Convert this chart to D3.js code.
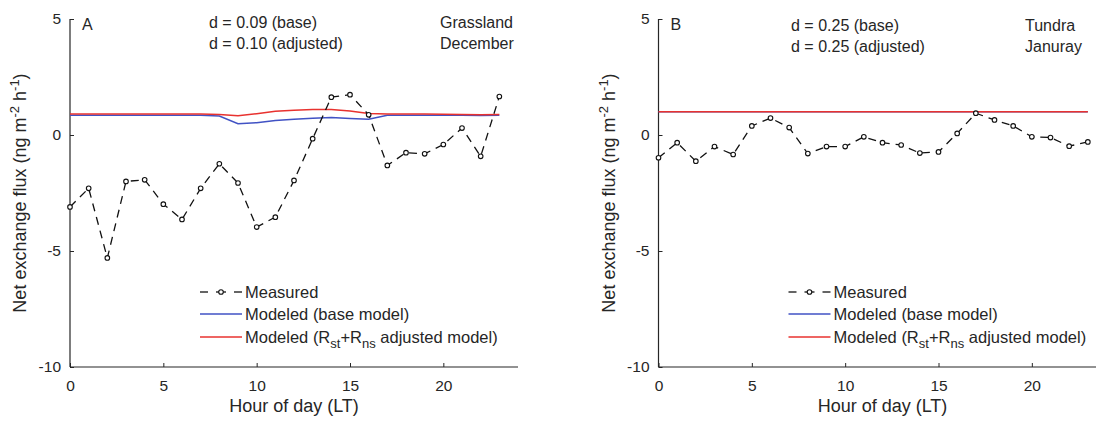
<!DOCTYPE html>
<html><head><meta charset="utf-8">
<script src="https://cdn.jsdelivr.net/npm/d3@7"></script>
<style>body{margin:0;background:#fff}svg{display:block}text{font-family:"Liberation Sans",Arial,sans-serif;fill:#262626}</style>
</head><body><svg id="c" width="1096" height="422"></svg>
<script>
const hours = d3.range(0, 24);
const measuredA = [-3.1,-2.3,-5.3,-2.0,-1.93,-2.98,-3.64,-2.3,-1.24,-2.07,-3.97,-3.54,-1.96,-0.16,1.63,1.74,0.87,-1.31,-0.76,-0.81,-0.41,0.30,-0.92,1.66];
const baseA = [0.85,0.85,0.85,0.85,0.85,0.85,0.85,0.85,0.82,0.49,0.53,0.62,0.68,0.72,0.75,0.71,0.68,0.85,0.85,0.85,0.85,0.85,0.84,0.85];
const adjA = [0.9,0.9,0.9,0.9,0.9,0.9,0.9,0.9,0.88,0.83,0.92,1.02,1.07,1.1,1.1,1.03,0.93,0.9,0.9,0.9,0.89,0.88,0.87,0.88];
const measuredB = [-0.98,-0.33,-1.13,-0.5,-0.84,0.39,0.73,0.32,-0.8,-0.5,-0.5,-0.08,-0.33,-0.43,-0.78,-0.73,0.07,0.94,0.65,0.39,-0.08,-0.11,-0.48,-0.3];
const baseB = [1.0,1.0,1.0,1.0,1.0,1.0,1.0,1.0,1.0,1.0,1.0,1.0,1.0,1.0,1.0,1.0,1.0,1.0,1.0,1.0,1.0,1.0,1.0,1.0];
const adjB = [1.0,1.0,1.0,1.0,1.0,1.0,1.0,1.0,1.0,1.0,1.0,1.0,1.0,1.0,1.0,1.0,1.0,1.0,1.0,1.0,1.0,1.0,1.0,1.0];
const yTicks = [-10,-5,0,5];
const xTicks = [0,5,10,15,20];
const panelLabels = ["A","B"];
const dBase = ["d = 0.09 (base)","d = 0.25 (base)"];
const dAdj = ["d = 0.10 (adjusted)","d = 0.25 (adjusted)"];
const siteNames = ["Grassland","Tundra"];
const monthNames = ["December","Januray"];
const legendLabels = ["Measured","Modeled (base model)","Modeled (R|st|+R|ns| adjusted model)"];

const svg = d3.select("#c");
const BLUE = "#4152c4", RED = "#e8322f", AX = "#262626";

const panels = [
  {x0:70, meas:measuredA, base:baseA, adj:adjA, dX:209, siteX:440, textY:[28,49], lab:0},
  {x0:658.5, meas:measuredB, base:baseB, adj:adjB, dX:791, siteX:1025, textY:[31,52], lab:1}
];

panels.forEach((p,i)=>{
  const x = d3.scaleLinear().domain([0,24]).range([p.x0, p.x0+448]);
  const y = d3.scaleLinear().domain([-10,5]).range([367,19]);
  const g = svg.append("g");

  const ya = g.append("g").attr("transform",`translate(${p.x0},0)`)
    .call(d3.axisLeft(y).tickValues(yTicks).tickSize(-4).tickPadding(9).tickFormat(d=>String(d)));
  const xa = g.append("g").attr("transform",`translate(0,367)`)
    .call(d3.axisBottom(x).tickValues(xTicks).tickSize(-4).tickPadding(13).tickFormat(d=>String(d)));
  [ya,xa].forEach(a=>{
    a.select(".domain").attr("stroke",AX).attr("stroke-width",1.2);
    a.selectAll(".tick line").attr("stroke",AX);
    a.selectAll(".tick text").attr("font-size",15.5).attr("fill",AX).style("font-family",'"Liberation Sans",Arial,sans-serif');
  });
  ya.select(".domain").attr("d",`M0,${y(5)}V${y(-10)}`);
  xa.select(".domain").attr("d",`M${p.x0},0H${p.x0+448}`);
  xa.selectAll(".tick text").attr("dy","0.71em");

  const line = arr => d3.line().x((d,j)=>x(hours[j])).y(d=>y(d))(arr);
  g.append("path").attr("d",line(p.base)).attr("fill","none").attr("stroke",BLUE).attr("stroke-width",1.5);
  g.append("path").attr("d",line(p.adj)).attr("fill","none").attr("stroke",RED).attr("stroke-width",1.5);
  g.append("path").attr("d",line(p.meas)).attr("fill","none").attr("stroke","#111").attr("stroke-width",1.3).attr("stroke-dasharray","8,6");
  g.selectAll("circle.m").data(p.meas).join("circle").attr("class","m")
    .attr("cx",(d,j)=>x(hours[j])).attr("cy",d=>y(d)).attr("r",2.3)
    .attr("fill","#fff").attr("stroke","#111").attr("stroke-width",1.1);

  g.append("text").attr("x",p.x0+12).attr("y",30).attr("font-size",16).text(panelLabels[i]);
  g.append("text").attr("x",p.dX).attr("y",p.textY[0]).attr("font-size",16).text(dBase[i]);
  g.append("text").attr("x",p.dX).attr("y",p.textY[1]).attr("font-size",16).text(dAdj[i]);
  g.append("text").attr("x",p.siteX).attr("y",p.textY[0]).attr("font-size",16).text(siteNames[i]);
  g.append("text").attr("x",p.siteX).attr("y",p.textY[1]).attr("font-size",16).text(monthNames[i]);

  g.append("text").attr("x",x(12)).attr("y",412).attr("text-anchor","middle").attr("font-size",18).text("Hour of day (LT)");
  const yl = g.append("text").attr("transform",`translate(${p.x0-44},193) rotate(-90)`).attr("text-anchor","middle").attr("font-size",18);
  yl.append("tspan").text("Net exchange flux (ng m");
  yl.append("tspan").attr("dy",-7).attr("font-size",13).text("-2");
  yl.append("tspan").attr("dy",7).text(" h");
  yl.append("tspan").attr("dy",-7).attr("font-size",13).text("-1");
  yl.append("tspan").attr("dy",7).text(")");

  const lx = p.x0+130, rows = [292,314,337];
  const lg = g.append("g");
  [[0,8],[16,26],[34,42]].forEach(s=>{
    lg.append("line").attr("x1",lx+s[0]).attr("x2",lx+s[1]).attr("y1",rows[0]).attr("y2",rows[0]).attr("stroke","#111").attr("stroke-width",1.3);
  });
  lg.append("circle").attr("cx",lx+21).attr("cy",rows[0]).attr("r",2.3).attr("fill","#fff").attr("stroke","#111").attr("stroke-width",1.1);
  lg.append("line").attr("x1",lx).attr("x2",lx+42).attr("y1",rows[1]).attr("y2",rows[1]).attr("stroke",BLUE).attr("stroke-width",1.4);
  lg.append("line").attr("x1",lx).attr("x2",lx+42).attr("y1",rows[2]).attr("y2",rows[2]).attr("stroke",RED).attr("stroke-width",1.4);
  legendLabels.forEach((lbl,k)=>{
    const t = lg.append("text").attr("x",lx+45).attr("y",rows[k]+6).attr("font-size",16.5);
    const parts = lbl.split("|");
    parts.forEach((s,m)=>{
      if(m%2===1){ t.append("tspan").attr("dy",5).attr("font-size",13).text(s); }
      else { const ts=t.append("tspan").text(s); if(m>0) ts.attr("dy",-5); }
    });
  });
});
</script></body></html>
